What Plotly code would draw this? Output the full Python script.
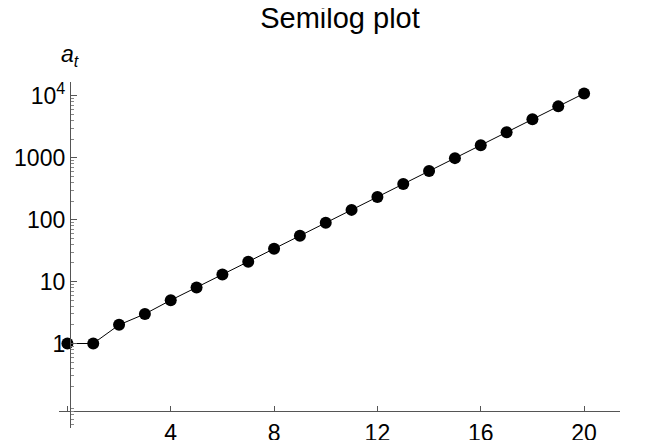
import plotly.graph_objects as go

t_vals = list(range(21))
a_vals = [1, 1, 2, 3, 5, 8, 13, 21, 34, 55, 89, 144, 233, 377, 610, 987, 1597, 2584, 4181, 6765, 10946]

x_tickvals = [4, 8, 12, 16, 20]
x_ticktext = ["4", "8", "12", "16", "20"]
x_minor = [0]
y_tickvals = [1, 10, 100, 1000, 10000]
y_ticktext = ["1", "10", "100", "1000", "10<sup>4</sup>"]
y_minor = [m * 10 ** k for k in range(-2, 5) for m in range(2, 10)]

# page has an 8px body margin, so the figure is 8px smaller than the window
OFF = 8
W, H = 646 - OFF, 440 - OFF
# plot area in window pixels
L, R, T, B = 59, 620, 82, 428
x_range = [-0.325, 21.39]
y_range = [-1.365, 4.224]
x_axis_pos = (B - 411) / (B - T)
y_axis_pos = (70 - L) / (R - L)

FONT = "Liberation Sans, Arial, sans-serif"
AX = "#555555"

fig = go.Figure()
fig.add_trace(go.Scatter(
    x=t_vals, y=a_vals, mode="lines+markers",
    line=dict(color="black", width=1),
    marker=dict(color="black", size=12),
    showlegend=False,
))

fig.update_layout(
    width=W, height=H,
    margin=dict(l=L - OFF, r=(646 - R), t=T - OFF, b=(440 - B), pad=0, autoexpand=False),
    paper_bgcolor="white", plot_bgcolor="white",
    font=dict(family=FONT, color="black"),
    title=dict(text="Semilog plot", x=(340 - OFF) / W, xanchor="center",
               y=1 - (18 - OFF) / H, yanchor="middle", font=dict(size=29, family=FONT, color="black")),
    xaxis=dict(
        range=x_range, anchor="free", position=x_axis_pos, automargin=False,
        showgrid=False, zeroline=False, showline=True, linecolor=AX, linewidth=1.3,
        tickmode="array", tickvals=x_tickvals, ticktext=x_ticktext,
        ticks="inside", ticklen=5, tickcolor=AX, tickwidth=1,
        tickfont=dict(size=23, family=FONT, color="black"),
        ticklabelstandoff=1,
        minor=dict(tickmode="array", tickvals=x_minor, ticks="inside", ticklen=5,
                   tickcolor=AX, tickwidth=1),
    ),
    yaxis=dict(
        type="log", range=y_range, anchor="free", position=y_axis_pos, automargin=False,
        showgrid=False, zeroline=False, showline=True, linecolor=AX, linewidth=1.3,
        tickmode="array", tickvals=y_tickvals, ticktext=y_ticktext,
        ticks="inside", ticklen=6, tickcolor=AX, tickwidth=1,
        tickfont=dict(size=23, family=FONT, color="black"),
        ticklabelstandoff=0,
        minor=dict(tickmode="array", tickvals=y_minor, ticks="inside", ticklen=3,
                   tickcolor="#888888", tickwidth=1),
    ),
    shapes=[
        dict(type="line", xref="paper", yref="y", x0=y_axis_pos, x1=y_axis_pos + 6 / (R - L),
             y0=-1, y1=-1, line=dict(color=AX, width=1)),
    ],
    annotations=[
        dict(text="<i>a<sub>t</sub></i>", xref="paper", yref="paper",
             x=(70 - L) / (R - L), y=(B - 56) / (B - T), xanchor="center", yanchor="middle",
             showarrow=False, font=dict(size=23, family=FONT, color="black")),
        dict(text="<i>t</i>", xref="paper", yref="paper",
             x=(643 - L) / (R - L), y=(B - 410) / (B - T), xanchor="center", yanchor="middle",
             showarrow=False, font=dict(size=23, family=FONT, color="black")),
    ],
)

fig.write_html("out.html")
